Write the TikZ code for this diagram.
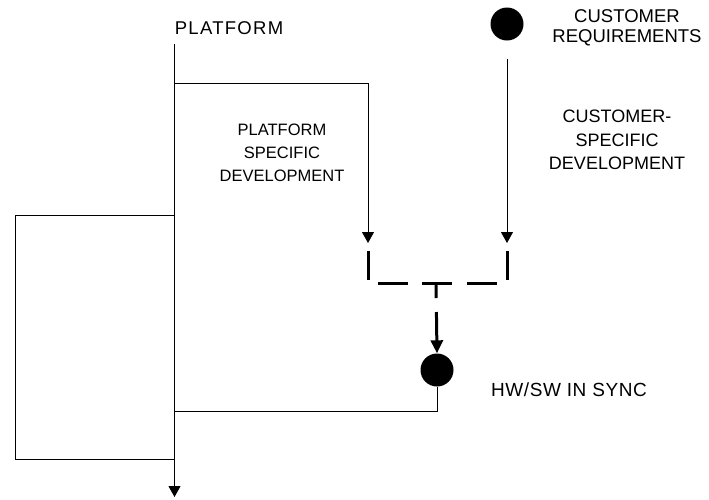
\documentclass[tikz,border=0pt]{standalone}
\usepackage{fontspec}
\setmainfont{Liberation Sans}
\usetikzlibrary{arrows.meta}
\newlength{\du}
\setlength{\du}{1pt}
\tikzset{
  wire/.style={line width=1\du, draw=black},
  thinarrow/.style={-{Triangle[length=11pt,width=12pt]}},
  syncline/.style={line width=3\du, line cap=butt},
  blob/.style={circle, fill=black, inner sep=0pt, minimum size=33\du},
  lbl/.style={inner sep=0pt, align=center, font=\fontsize{18}{23.5}\selectfont},
}

\begin{document}
\begin{tikzpicture}[x=1\du,y=-1\du]
\useasboundingbox (0,0) rectangle (709,499);
% labels
\node[lbl, font=\fontsize{18.5}{23}\selectfont\addfontfeature{LetterSpace=7}] (platlbl) at (229,28) {PLATFORM};
\node[lbl, font=\fontsize{18.5}{20}\selectfont] (custlbl) at (627,28) {CUSTOMER\\REQUIREMENTS};
\node[lbl, font=\fontsize{16.5}{23}\selectfont] (platdev) at (282,153) {PLATFORM\\SPECIFIC\\DEVELOPMENT};
\node[lbl] (custdev) at (617,140) {CUSTOMER-\\SPECIFIC\\DEVELOPMENT};
\node[lbl, font=\fontsize{19}{23}\selectfont\addfontfeature{LetterSpace=3}] (synclbl) at (569,390) {HW/SW IN SYNC};
% milestones
\node[blob] (cust) at (507,24) {};
\node[blob] (sync) at (437,370) {};
% points on the lines
\coordinate (ptop) at (174.5,44);
\coordinate (pend) at (174.5,497);
\coordinate (pbranch) at (174.5,83);
\coordinate (pin) at (368,243);
\coordinate (custin) at (507,243);
\coordinate (loopa) at (174.5,215);
\coordinate (loopb) at (174.5,459);
\coordinate (syncret) at (174.5,411);
\coordinate (jl) at (368,251);
\coordinate (jm) at (436,283);
\coordinate (jr) at (507,251);
% platform line
\draw[wire,thinarrow] (ptop) -- (pend);
\draw[wire,thinarrow] (pbranch) -| (pin);
\draw[wire] (loopa) -- ++(-159.5,0) |- (loopb);
% customer line
\draw[wire,thinarrow,shorten <=18\du] (cust.south) -- (custin);
% sync
\draw[syncline, dash pattern=on 29\du off 13\du on 30\du off 14\du on 30\du off 15\du on 30\du off 13\du on 29\du off 40\du] (jl) |- (jm) -| (jr);
\draw[syncline, dash pattern=on 15\du off 14\du on 80\du, -{Triangle[length=13pt,width=12pt]}] (jm) -- (sync.north);
\draw[wire] (sync.south) -- (sync |- syncret) -- (syncret);
\end{tikzpicture}
\end{document}
